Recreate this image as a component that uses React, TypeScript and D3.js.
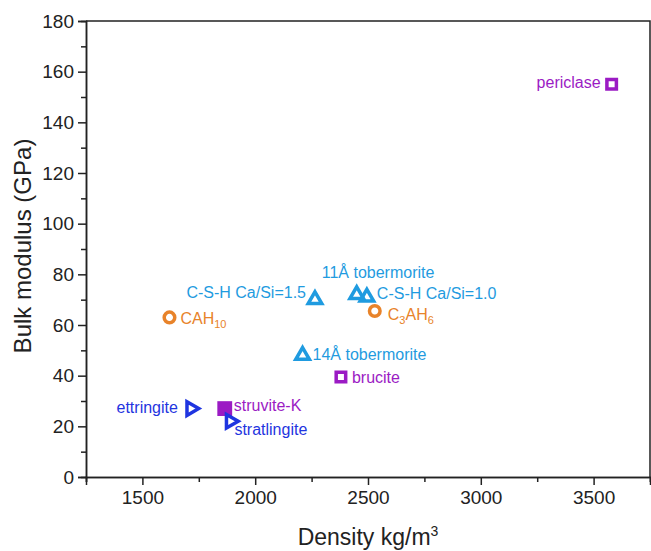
import { useRef, useEffect } from "react";
import * as d3 from "d3";

const W = 651;
const H = 551;
const PAD = { top: 21, right: 1, bottom: 74, left: 86 };

// data
const NAMES = [
  "periclase",
  "brucite",
  "struvite-K",
  "C-S-H Ca/Si=1.5",
  "11Å tobermorite",
  "C-S-H Ca/Si=1.0",
  "14Å tobermorite",
  "C3AH6",
  "CAH10",
  "ettringite",
  "stratlingite",
];
const DENSITY = [3580, 2380, 1865, 2265, 2450, 2495, 2210, 2530, 1620, 1715, 1890];
const BULK = [155, 39.5, 27, 70, 72, 71, 48, 65.5, 63, 27, 22];
const KIND = [
  "squareOpen",
  "squareOpen",
  "squareFilled",
  "triUp",
  "triUp",
  "triUp",
  "triUp",
  "circle",
  "circle",
  "triRight",
  "triRight",
];

const X_TICKS = [1500, 2000, 2500, 3000, 3500];
const Y_TICKS = [0, 20, 40, 60, 80, 100, 120, 140, 160, 180];

// label placement: [anchor, dx, dy] from marker centre
const LABEL_POS: [string, number, number][] = [
  ["end", -11, 4],
  ["start", 11, 6],
  ["start", 9, 2],
  ["end", -9, -2],
  ["start", -35, -17],
  ["start", 10, 2],
  ["start", 10, 5],
  ["start", 13, 9],
  ["start", 11, 7],
  ["end", -13, 4],
  ["start", 4, 14],
];

const COLOR: Record<string, string> = {
  squareOpen: "#9b1bc4",
  squareFilled: "#9b1bc4",
  triUp: "#1f9be0",
  circle: "#e8832a",
  triRight: "#1f35e0",
};

const FONT = "'Liberation Sans', Arial, sans-serif";

export default function App() {
  const svgRef = useRef<SVGSVGElement>(null);

  useEffect(() => {
    const svg = d3.select(svgRef.current);
    if (!svg.node()) return;
    svg.selectAll("*").remove();

    const x = d3.scaleLinear().domain([1250, 3750]).range([PAD.left, W - PAD.right]);
    const y = d3.scaleLinear().domain([0, 180]).range([H - PAD.bottom, PAD.top]);
    const axisColor = "#222";

    // frame top/right
    svg
      .append("path")
      .attr("d", `M${PAD.left},${PAD.top}H${W - PAD.right}V${H - PAD.bottom}`)
      .attr("fill", "none")
      .attr("stroke", axisColor)
      .attr("stroke-width", 1.5);

    const xMinor = d3.range(1250, 3751, 250).filter((v) => !X_TICKS.includes(v));
    const yMinor = d3.range(10, 180, 20);

    const gx = svg.append("g").attr("transform", `translate(0,${H - PAD.bottom})`);
    gx.call(d3.axisBottom(x).tickValues(xMinor).tickSize(5).tickFormat(() => ""));
    gx.append("g").call(
      d3.axisBottom(x).tickValues(X_TICKS).tickSize(8).tickPadding(6).tickFormat(d3.format("d")),
    );
    gx.selectAll("path.domain").attr("stroke-width", 1.5).attr("stroke", axisColor);
    gx.selectAll("line").attr("stroke-width", 1.5).attr("stroke", axisColor);
    gx.selectAll("text")
      .attr("fill", "#222")
      .style("font-size", "19px")
      .style("font-family", FONT);

    const gy = svg.append("g").attr("transform", `translate(${PAD.left},0)`);
    gy.call(d3.axisLeft(y).tickValues(yMinor).tickSize(5).tickFormat(() => ""));
    gy.append("g").call(
      d3.axisLeft(y).tickValues(Y_TICKS).tickSize(8).tickPadding(4).tickFormat(d3.format("d")),
    );
    gy.selectAll("path.domain").attr("stroke-width", 1.5).attr("stroke", axisColor);
    gy.selectAll("line").attr("stroke-width", 1.5).attr("stroke", axisColor);
    gy.selectAll("text")
      .attr("fill", "#222")
      .style("font-size", "19px")
      .style("font-family", FONT);

    // axis titles
    const xt = svg
      .append("text")
      .attr("x", (PAD.left + W - PAD.right) / 2)
      .attr("y", 545)
      .attr("text-anchor", "middle")
      .attr("fill", "#222")
      .style("font-size", "23px")
      .style("font-family", FONT);
    xt.append("tspan").text("Density kg/m");
    xt.append("tspan").attr("dy", -9).style("font-size", "14px").text("3");

    svg
      .append("text")
      .attr("transform", `translate(31,246) rotate(-90)`)
      .attr("text-anchor", "middle")
      .attr("fill", "#222")
      .style("font-size", "24px")
      .style("font-family", FONT)
      .text("Bulk modulus (GPa)");

    // markers
    const triUp = d3.symbol().type(d3.symbolTriangle).size(80)();
    const sq = d3.symbol().type(d3.symbolSquare).size(90)();
    const sqBig = d3.symbol().type(d3.symbolSquare).size(220)();
    const circ = d3.symbol().type(d3.symbolCircle).size(88)();

    NAMES.forEach((name, i) => {
      const k = KIND[i];
      const c = COLOR[k];
      const px = x(DENSITY[i]);
      const py = y(BULK[i]);
      const g = svg.append("g").attr("transform", `translate(${px},${py})`);
      let d = triUp;
      let rot = 0;
      if (k === "squareOpen") d = sq;
      else if (k === "squareFilled") d = sqBig;
      else if (k === "circle") d = circ;
      else if (k === "triRight") rot = 90;
      g.append("path")
        .attr("d", d)
        .attr("transform", `rotate(${rot})`)
        .attr("fill", k === "squareFilled" ? c : "none")
        .attr("stroke", c)
        .attr("stroke-width", k === "squareFilled" ? 0 : 3.5)
        .attr("stroke-linejoin", "miter");

      const [anchor, dx, dy] = LABEL_POS[i];
      const t = svg
        .append("text")
        .attr("x", px + dx)
        .attr("y", py + dy)
        .attr("text-anchor", anchor)
        .attr("fill", c)
        .style("font-size", "16px")
        .style("font-family", FONT);
      if (name === "C3AH6") {
        t.append("tspan").text("C");
        t.append("tspan").attr("dy", 4).style("font-size", "11px").text("3");
        t.append("tspan").attr("dy", -4).text("AH");
        t.append("tspan").attr("dy", 4).style("font-size", "11px").text("6");
      } else if (name === "CAH10") {
        t.append("tspan").text("CAH");
        t.append("tspan").attr("dy", 4).style("font-size", "11px").text("10");
      } else {
        t.text(name);
      }
    });
  }, []);

  return (
    <svg
      ref={svgRef}
      width={W}
      height={H}
      style={{ position: "absolute", left: 0, top: 0, background: "#fff" }}
    />
  );
}
